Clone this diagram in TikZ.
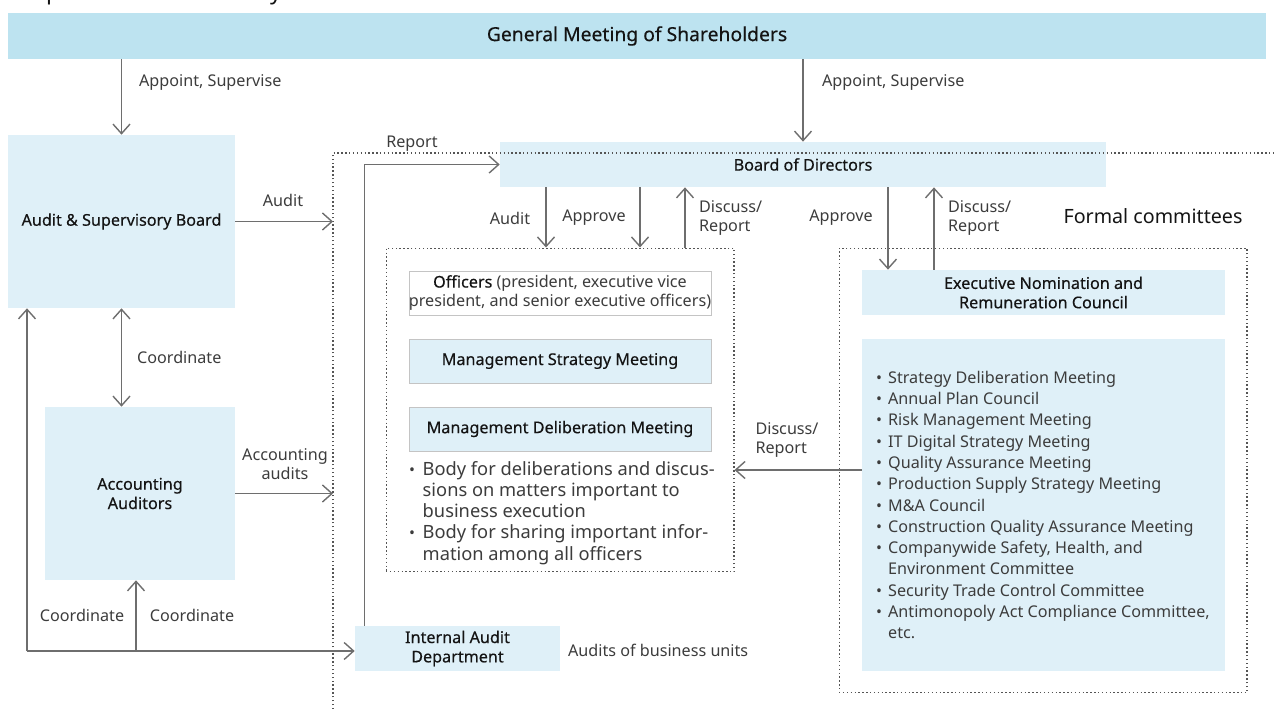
\documentclass[tikz,border=0pt]{standalone}
\usepackage{fontspec}
\setmainfont{Noto Sans}
\newfontfamily\medfont[FakeBold=0.35]{Noto Sans}
\usetikzlibrary{arrows.meta,positioning,calc}
\definecolor{gmsblue}{HTML}{BDE3F0}
\definecolor{boxblue}{HTML}{DFF0F8}
\definecolor{linegray}{HTML}{6E6E6E}
\definecolor{dotgray}{HTML}{555555}
\definecolor{txtdark}{HTML}{141414}
\definecolor{txtgray}{HTML}{3C3C3C}
\definecolor{edgegray}{HTML}{C4C4C4}
\newcommand{\bul}{\makebox[0.75em][l]{\fontsize{9}{9}\selectfont\textbullet}}
\newcommand{\hang}{\hspace*{0.75em}}

\begin{document}
\begin{tikzpicture}[x=0.02cm, y=-0.02cm, font=\fontsize{9.2}{11}\selectfont,
  arr/.style={draw=linegray, line width=0.8pt, -{Straight Barb[length=1.9mm,width=3.4mm]}},
  arrboth/.style={arr, {Straight Barb[length=1.9mm,width=3.4mm]}-{Straight Barb[length=1.9mm,width=3.4mm]}},
  box/.style={fill=boxblue, text=txtdark, align=center, inner sep=0pt, font=\fontsize{9.2}{11}\medfont},
  grp/.style={draw=dotgray, line width=0.6pt, dash pattern=on 0.8pt off 1.4pt},
  lbl/.style={text=txtgray, align=left, inner sep=1pt}]
  \useasboundingbox (0,0) rectangle (1274,709);

  % title, cut by the top edge
  \node[anchor=base west, inner sep=0pt, text=txtdark, font=\fontsize{13}{15}\selectfont] (title) at (8,0) {Corporate Governance System};

  % boxes
  \node[box, fill=gmsblue, minimum width=25.16cm, minimum height=0.92cm, font=\fontsize{11}{13}\medfont] (gms) at (637,36) {General Meeting of Shareholders};
  \node[box, minimum width=4.54cm, minimum height=3.46cm] (asb) at (121.5,221.5) {Audit \& Supervisory Board};
  \node[box, minimum width=3.8cm, minimum height=3.46cm] (acc) at (140,493.5) {Accounting\\Auditors};
  \node[box, minimum width=4.1cm, minimum height=0.9cm] (iad) at (457.5,648.5) {Internal Audit\\Department};
  \node[box, minimum width=12.12cm, minimum height=0.9cm] (bod) at (803,164.5) {Board of Directors};

  % officers group
  \node[grp, minimum width=6.96cm, minimum height=6.48cm] (offgrp) at (560,410) {};
  \node[box, fill=white, draw=edgegray, minimum width=6.04cm, minimum height=0.88cm, text=txtgray, font=\fontsize{9.2}{11}\selectfont] (off) at (560,293)
    {{\medfont\textcolor{txtdark}{Officers}} (president, executive vice\\president, and senior executive officers)};
  \node[box, draw=edgegray, minimum width=6.04cm, minimum height=0.88cm] (msm) at (560,361) {Management Strategy Meeting};
  \node[box, draw=edgegray, minimum width=6.04cm, minimum height=0.88cm] (mdm) at (560,429) {Management Deliberation Meeting};
  \node[lbl, anchor=north west, font=\fontsize{10.4}{12}\selectfont, inner sep=0pt] (mdmtxt) at ([yshift=-0.2cm]mdm.south west)
    {\bul Body for deliberations and discus-\\\hang sions on matters important to\\\hang business execution\\
     \bul Body for sharing important infor-\\\hang mation among all officers};

  % formal committees
  \node[text=txtdark, font=\fontsize{11.2}{13}\selectfont] (fclbl) at (1153,216) {Formal committees};
  \node[grp, minimum width=8.16cm, minimum height=8.9cm] (fcgrp) at (1043,470.5) {};
  \node[box, minimum width=7.26cm, minimum height=0.9cm] (enrc) at (1043.5,292.5) {Executive Nomination and\\Remuneration Council};
  \node[box, minimum width=7.26cm, minimum height=6.64cm] (comm) at (1043.5,505) {};
  \node[lbl, anchor=west, inner sep=0pt, font=\fontsize{9.2}{12.1}\selectfont] (commtxt) at ([xshift=0.28cm]comm.west)
    {\bul Strategy Deliberation Meeting\\
     \bul Annual Plan Council\\
     \bul Risk Management Meeting\\
     \bul IT Digital Strategy Meeting\\
     \bul Quality Assurance Meeting\\
     \bul Production Supply Strategy Meeting\\
     \bul M\&A Council\\
     \bul Construction Quality Assurance Meeting\\
     \bul Companywide Safety, Health, and\\\hang Environment Committee\\
     \bul Security Trade Control Committee\\
     \bul Antimonopoly Act Compliance Committee,\\\hang etc.};

  % outer dotted frame
  \coordinate (fl) at (333,153);
  \coordinate (fb) at (333,709);
  \coordinate (fr) at (1274,153);
  \draw[grp] (fb) -- (fl) -- (fr);

  % helper points
  \coordinate (lp) at (27,651);
  \coordinate (lq) at (136,651);
  \coordinate (au) at (546,0);
  \coordinate (ap) at (640,0);
  \coordinate (dr) at (685,0);
  \coordinate (ap2) at (888,0);
  \coordinate (dr2) at (934,0);
  \coordinate (dr3) at (0,470);

  % connectors
  \draw[arr] (gms.south -| asb.north) -- (asb.north);
  \draw[arr] (gms.south -| bod.north) -- (bod.north);
  \draw[arr] (asb.east) -- (asb.east -| fl);
  \draw[arrboth] (asb.south) -- (asb.south |- acc.north);
  \draw[arr] (acc.east) -- (acc.east -| fl);
  \draw[arr] (lp) -- (lp |- asb.south);
  \draw[arr] (lp) -- (lp -| iad.west);
  \draw[arr] (lq) -- (lq |- acc.south);
  \draw[arr] ([xshift=0.2cm]iad.north west) |- (bod.west);
  \draw[arr] (au |- bod.south) -- (au |- offgrp.north);
  \draw[arr] (ap |- bod.south) -- (ap |- offgrp.north);
  \draw[arr] (dr |- offgrp.north) -- (dr |- bod.south);
  \draw[arr] (ap2 |- bod.south) -- (ap2 |- enrc.north);
  \draw[arr] (dr2 |- enrc.north) -- (dr2 |- bod.south);
  \draw[arr] (dr3 -| comm.west) -- (dr3 -| offgrp.east);

  % connector labels
  \node[lbl, anchor=west] at (137,82) {Appoint, Supervise};
  \node[lbl, anchor=west] at (820,82) {Appoint, Supervise};
  \node[lbl] at (283,200) {Audit};
  \node[lbl, anchor=west] at (135,357) {Coordinate};
  \node[lbl, align=center] at (285,464) {Accounting\\audits};
  \node[lbl] at (82,615) {Coordinate};
  \node[lbl] at (192,615) {Coordinate};
  \node[lbl] at (412,144) {Report};
  \node[lbl] at (510,218) {Audit};
  \node[lbl] at (594,218) {Approve};
  \node[lbl, anchor=west] at (697,218) {Discuss/\\Report};
  \node[lbl] at (841,218) {Approve};
  \node[lbl, anchor=west] at (946,218) {Discuss/\\Report};
  \node[lbl] at (787,440) {Discuss/\\Report};
  \node[lbl, anchor=west] at (566,650) {Audits of business units};
\end{tikzpicture}
\end{document}
